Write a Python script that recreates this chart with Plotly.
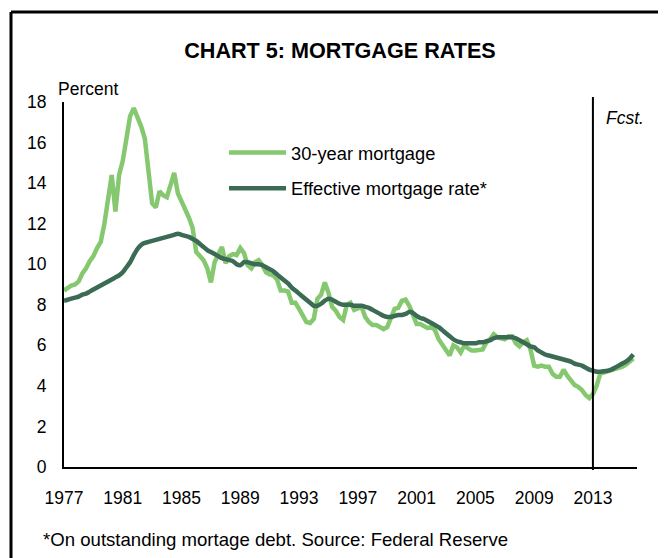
import plotly.graph_objects as go

start_year = 1977
n_years = 39  # quarterly data 1977Q1 - 2015Q4

mortgage_30yr = [
    8.7, 8.85, 8.95, 9.0,      # 1977
    9.15, 9.55, 9.8, 10.15,    # 1978
    10.4, 10.8, 11.1, 12.0,    # 1979
    13.3, 14.4, 12.6, 14.4,    # 1980
    15.1, 16.1, 17.3, 17.7,    # 1981
    17.3, 16.8, 16.2, 14.4,    # 1982
    13.0, 12.8, 13.6, 13.4,    # 1983
    13.3, 13.9, 14.5, 13.5,    # 1984
    13.1, 12.8, 12.3, 11.8,    # 1985
    10.6, 10.4, 10.2, 9.8,     # 1986
    9.1, 10.1, 10.5, 10.85,    # 1987
    10.05, 10.4, 10.5, 10.45,  # 1988
    10.8, 10.55, 9.95, 9.8,    # 1989
    10.1, 10.2, 9.95, 9.6,     # 1990
    9.5, 9.45, 9.25, 8.7,      # 1991
    8.7, 8.65, 8.1, 8.1,       # 1992
    7.8, 7.45, 7.15, 7.1,      # 1993
    7.3, 8.3, 8.5, 9.1,        # 1994
    8.6, 7.9, 7.7, 7.4,        # 1995
    7.25, 8.0, 8.1, 7.75,      # 1996
    7.8, 7.9, 7.4, 7.15,       # 1997
    7.0, 7.0, 6.9, 6.8,        # 1998
    6.9, 7.3, 7.8, 7.85,       # 1999
    8.2, 8.25, 7.95, 7.5,      # 2000
    7.05, 7.05, 6.95, 6.85,    # 2001
    6.9, 6.75, 6.3, 6.05,      # 2002
    5.8, 5.5, 6.0, 5.9,        # 2003
    5.65, 6.0, 5.85, 5.75,     # 2004
    5.75, 5.75, 5.8, 6.15,     # 2005
    6.3, 6.55, 6.4, 6.35,      # 2006
    6.3, 6.45, 6.45, 6.1,      # 2007
    5.95, 6.15, 6.25, 5.8,     # 2008
    5.0, 4.95, 5.0, 4.95,      # 2009
    4.95, 4.6, 4.45, 4.45,     # 2010
    4.8, 4.5, 4.3, 4.05,       # 2011
    3.95, 3.8, 3.55, 3.4,      # 2012
    3.6, 4.0, 4.6, 4.65,       # 2013
    4.7, 4.8, 4.85, 4.9,       # 2014
    4.95, 5.05, 5.2, 5.35,     # 2015
]

effective_rate = [
    8.2, 8.25, 8.3, 8.35,      # 1977
    8.4, 8.5, 8.55, 8.65,      # 1978
    8.75, 8.85, 8.95, 9.05,    # 1979
    9.15, 9.25, 9.35, 9.45,    # 1980
    9.6, 9.85, 10.1, 10.45,    # 1981
    10.75, 10.95, 11.05, 11.1, # 1982
    11.15, 11.2, 11.25, 11.3,  # 1983
    11.35, 11.4, 11.45, 11.5,  # 1984
    11.45, 11.4, 11.35, 11.25, # 1985
    11.15, 11.0, 10.85, 10.7,  # 1986
    10.6, 10.5, 10.4, 10.3,    # 1987
    10.25, 10.2, 10.15, 10.0,  # 1988
    9.95, 10.1, 10.1, 10.05,   # 1989
    10.0, 10.0, 9.95, 9.85,    # 1990
    9.75, 9.65, 9.5, 9.35,     # 1991
    9.2, 9.05, 8.85, 8.7,      # 1992
    8.55, 8.4, 8.25, 8.1,      # 1993
    7.95, 7.95, 8.05, 8.2,     # 1994
    8.3, 8.25, 8.15, 8.05,     # 1995
    8.0, 8.0, 8.0, 7.95,       # 1996
    7.95, 7.95, 7.9, 7.85,     # 1997
    7.75, 7.65, 7.55, 7.45,    # 1998
    7.4, 7.4, 7.45, 7.5,       # 1999
    7.5, 7.55, 7.65, 7.6,      # 2000
    7.45, 7.35, 7.3, 7.2,      # 2001
    7.1, 7.0, 6.9, 6.75,       # 2002
    6.6, 6.45, 6.3, 6.2,       # 2003
    6.15, 6.1, 6.1, 6.1,       # 2004
    6.1, 6.15, 6.15, 6.2,      # 2005
    6.25, 6.35, 6.4, 6.4,      # 2006
    6.4, 6.4, 6.4, 6.35,       # 2007
    6.25, 6.15, 6.05, 5.95,    # 2008
    5.9, 5.75, 5.65, 5.55,     # 2009
    5.5, 5.45, 5.4, 5.35,      # 2010
    5.3, 5.25, 5.2, 5.1,       # 2011
    5.05, 5.0, 4.9, 4.8,       # 2012
    4.75, 4.7, 4.7, 4.72,      # 2013
    4.75, 4.8, 4.9, 5.0,       # 2014
    5.1, 5.2, 5.35, 5.55,      # 2015
]

tick_years = [1977, 1981, 1985, 1989, 1993, 1997, 2001, 2005, 2009, 2013]
forecast_start = 2013

quarters = [start_year + i / 4 for i in range(n_years * 4)]

LIGHT = "#86C86F"
DARK = "#3B6B55"
FONT = "Liberation Sans, Arial, sans-serif"

# page is offset by the browser's 8px body margin
OFF = 8
W, H = 666, 558
PL, PR, PT, PB = 64, 637, 102, 467  # desired plot-area edges on the page
PW, PH = PR - PL, PB - PT


def px(xp):
    return (xp - PL) / PW


def py(yp):
    return (PB - yp) / PH


fig = go.Figure()
fig.add_trace(go.Scatter(x=quarters, y=mortgage_30yr, mode="lines", name="30-year mortgage",
                         legendgroup="a", line=dict(color=LIGHT, width=4.5)))
fig.add_trace(go.Scatter(x=quarters, y=effective_rate, mode="lines", name="Effective mortgage rate*",
                         legendgroup="b",
                         line=dict(color=DARK, width=4.5, shape="spline", smoothing=0.8)))

fig.update_layout(
    width=W, height=H,
    margin=dict(l=PL - OFF, r=W - (PR - OFF), t=PT - OFF, b=H - (PB - OFF)),
    paper_bgcolor="white", plot_bgcolor="white",
    font=dict(family=FONT, color="black", size=17),
    title=dict(text="<b>CHART 5: MORTGAGE RATES</b>", x=(340 - OFF) / W, xanchor="center",
               y=1 - (50 - OFF) / H, yanchor="middle", font=dict(size=21.6, family=FONT)),
    showlegend=True,
    legend=dict(x=px(224), xanchor="left", y=py(134), yanchor="top",
                bgcolor="rgba(0,0,0,0)", font=dict(size=18.3), itemwidth=57,
                tracegroupgap=9),
    xaxis=dict(range=[1977, 2016], showgrid=False, zeroline=False, showline=True,
               linecolor="black", linewidth=2, tickmode="array", tickvals=tick_years,
               ticktext=[str(y) for y in tick_years], ticks="", ticklabelstandoff=14,
               tickfont=dict(size=17.5)),
    yaxis=dict(range=[0, 18], showgrid=False, zeroline=False, showline=True,
               linecolor="black", linewidth=2, tickmode="array",
               tickvals=list(range(0, 19, 2)), ticks="", ticklabelstandoff=12,
               tickfont=dict(size=17.5)),
)

# forecast divider
fig.add_shape(type="line", xref="x", yref="paper", x0=forecast_start, x1=forecast_start,
              y0=py(470), y1=py(97), line=dict(color="black", width=2))

# outer frame (top and left edges visible)
fig.add_shape(type="line", xref="paper", yref="paper", x0=px(11), x1=px(700),
              y0=py(12), y1=py(12), line=dict(color="black", width=3))
fig.add_shape(type="line", xref="paper", yref="paper", x0=px(11), x1=px(11),
              y0=py(12), y1=py(600), line=dict(color="black", width=3))

fig.add_annotation(text="Percent", xref="paper", yref="paper", x=px(56), y=py(89),
                   xanchor="left", yanchor="middle", showarrow=False, font=dict(size=17.5))
fig.add_annotation(text="<i>Fcst.</i>", xref="paper", yref="paper", x=px(604),
                   y=py(118), xanchor="left", yanchor="middle", showarrow=False,
                   font=dict(size=17.5))
fig.add_annotation(text="*On outstanding mortage debt. Source: Federal Reserve", xref="paper",
                   yref="paper", x=px(41), y=py(539), xanchor="left",
                   yanchor="middle", showarrow=False, font=dict(size=18.6))

fig.write_html("out.html")
